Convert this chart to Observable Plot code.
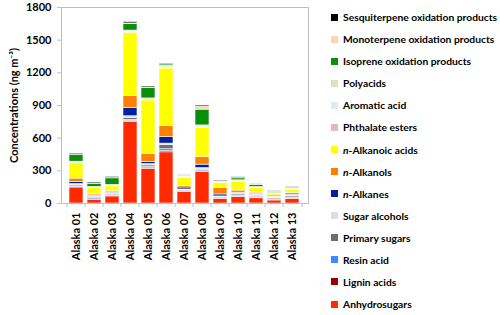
<!DOCTYPE html>
<html><head><meta charset="utf-8">
<script src="https://cdn.jsdelivr.net/npm/d3@7"></script>
<script src="https://cdn.jsdelivr.net/npm/@observablehq/plot@0.6"></script>
<style>
body{margin:0;background:#fff;font-family:Lato, sans-serif;}
#wrap{position:relative;width:500px;height:315px;overflow:hidden;}
#legend{position:absolute;left:331px;top:6px;}
.item{height:22.08px;display:flex;align-items:center;font-size:10.3px;font-weight:bold;color:#000;white-space:nowrap;}
.sw{width:7px;height:7px;margin-right:5px;flex:none;}
</style></head>
<body><div id="wrap"><div id="chart"></div><div id="legend"></div></div>
<script>
const categories = ["Alaska 01","Alaska 02","Alaska 03","Alaska 04","Alaska 05","Alaska 06","Alaska 07","Alaska 08","Alaska 09","Alaska 10","Alaska 11","Alaska 12","Alaska 13"];
const yTicks = [0,300,600,900,1200,1500,1800];

// series, bottom of stack first
const anhydrosugars   = [147,35,65,750,315,470,105,290,40,58,48,28,42];
const ligninAcids     = [4,3,4,8,8,10,4,5,3,3,3,3,3];
const resinAcid       = [6,12,8,10,12,18,6,10,8,10,8,8,8];
const primarySugars   = [10,12,12,18,15,40,8,8,8,12,12,12,12];
const sugarAlcohols   = [12,8,8,15,12,12,6,12,6,8,10,6,8];
const nAlkanes        = [20,5,5,75,20,60,18,32,18,8,7,5,8];
const nAlkanols       = [30,15,10,110,75,100,12,68,62,20,12,12,15];
const nAlkanoicAcids  = [140,50,45,582,490,530,78,270,45,78,40,15,30];
const phthalateEsters = [4,3,3,5,4,5,3,5,3,3,3,2,3];
const aromaticAcid    = [3,2,3,5,4,5,3,5,3,3,3,2,3];
const polyacids       = [8,7,8,10,10,15,5,12,5,10,6,4,5];
const isopreneOx      = [60,28,60,62,95,12,6,145,2,18,20,10,5];
const monoterpeneOx   = [3,2,3,4,4,3,2,28,2,3,2,2,2];
const sesquiterpeneOx = [10,10,10,12,10,5,4,10,6,7,6,6,6];

const seriesNames = ["Anhydrosugars","Lignin acids","Resin acid","Primary sugars","Sugar alcohols","n-Alkanes","n-Alkanols","n-Alkanoic acids","Phthalate esters","Aromatic acid","Polyacids","Isoprene oxidation products","Monoterpene oxidation products","Sesquiterpene oxidation products"];
const seriesValues = [anhydrosugars,ligninAcids,resinAcid,primarySugars,sugarAlcohols,nAlkanes,nAlkanols,nAlkanoicAcids,phthalateEsters,aromaticAcid,polyacids,isopreneOx,monoterpeneOx,sesquiterpeneOx];
const seriesColors = ["#ff2a00","#990000","#3d8bff","#6e6e6e","#dedede","#0020a0","#ff8000","#ffff00","#e6b9b8","#dbeef4","#d7e4bd","#0a8f0a","#fcd5b5","#000000"];

const table = [];
seriesNames.forEach((s,i)=>categories.forEach((c,j)=>table.push({site:c, group:s, value:seriesValues[i][j]})));

const W = 309, ML = 61, MR = 1;
const step = (W - ML - MR) / categories.length;

const chart = Plot.plot({
  width: W, height: 315,
  marginTop: 7, marginLeft: ML, marginRight: MR, marginBottom: 112,
  style: {fontFamily: "Lato, sans-serif", fontSize: "11px", fontWeight: "bold", color: "#000", background: "#fff"},
  x: {domain: categories, padding: 0.2, label: null},
  y: {domain: [0, 1800], label: "Concentrations (ng m⁻³)"},
  color: {domain: seriesNames, range: seriesColors},
  marks: [
    Plot.barY(table, {x: "site", y: "value", fill: "group", stroke: "white", strokeWidth: 0.6}),
    Plot.frame({stroke: "#bfbfbf"}),
    Plot.axisY({ticks: yTicks, tickFormat: d3.format("d"), tickSize: 4, tickPadding: 6, stroke: "#bfbfbf", fill: "#000", label: "Concentrations (ng m⁻³)", labelAnchor: "center", labelArrow: "none", labelOffset: 51}),
    Plot.axisX({tickRotate: -90, tickSize: 0, tickPadding: 9, label: null, fill: "#000"}),
    Plot.axisX({ticks: categories, tickSize: 4, text: null, dx: -step/2, stroke: "#bfbfbf", label: null}),
    Plot.axisX({ticks: [categories[categories.length-1]], tickSize: 4, text: null, dx: step/2, stroke: "#bfbfbf", label: null})
  ]
});
document.getElementById("chart").appendChild(chart);

const legend = document.getElementById("legend");
seriesNames.map((s,i)=>({s, c: seriesColors[i]})).reverse().forEach(({s,c})=>{
  const it = document.createElement("div"); it.className = "item";
  const sw = document.createElement("span"); sw.className = "sw"; sw.style.background = c;
  const tx = document.createElement("span");
  if (s.startsWith("n-")) { tx.innerHTML = "<i>n</i>-" + s.slice(2); } else { tx.textContent = s; }
  it.appendChild(sw); it.appendChild(tx); legend.appendChild(it);
});
</script></body></html>
